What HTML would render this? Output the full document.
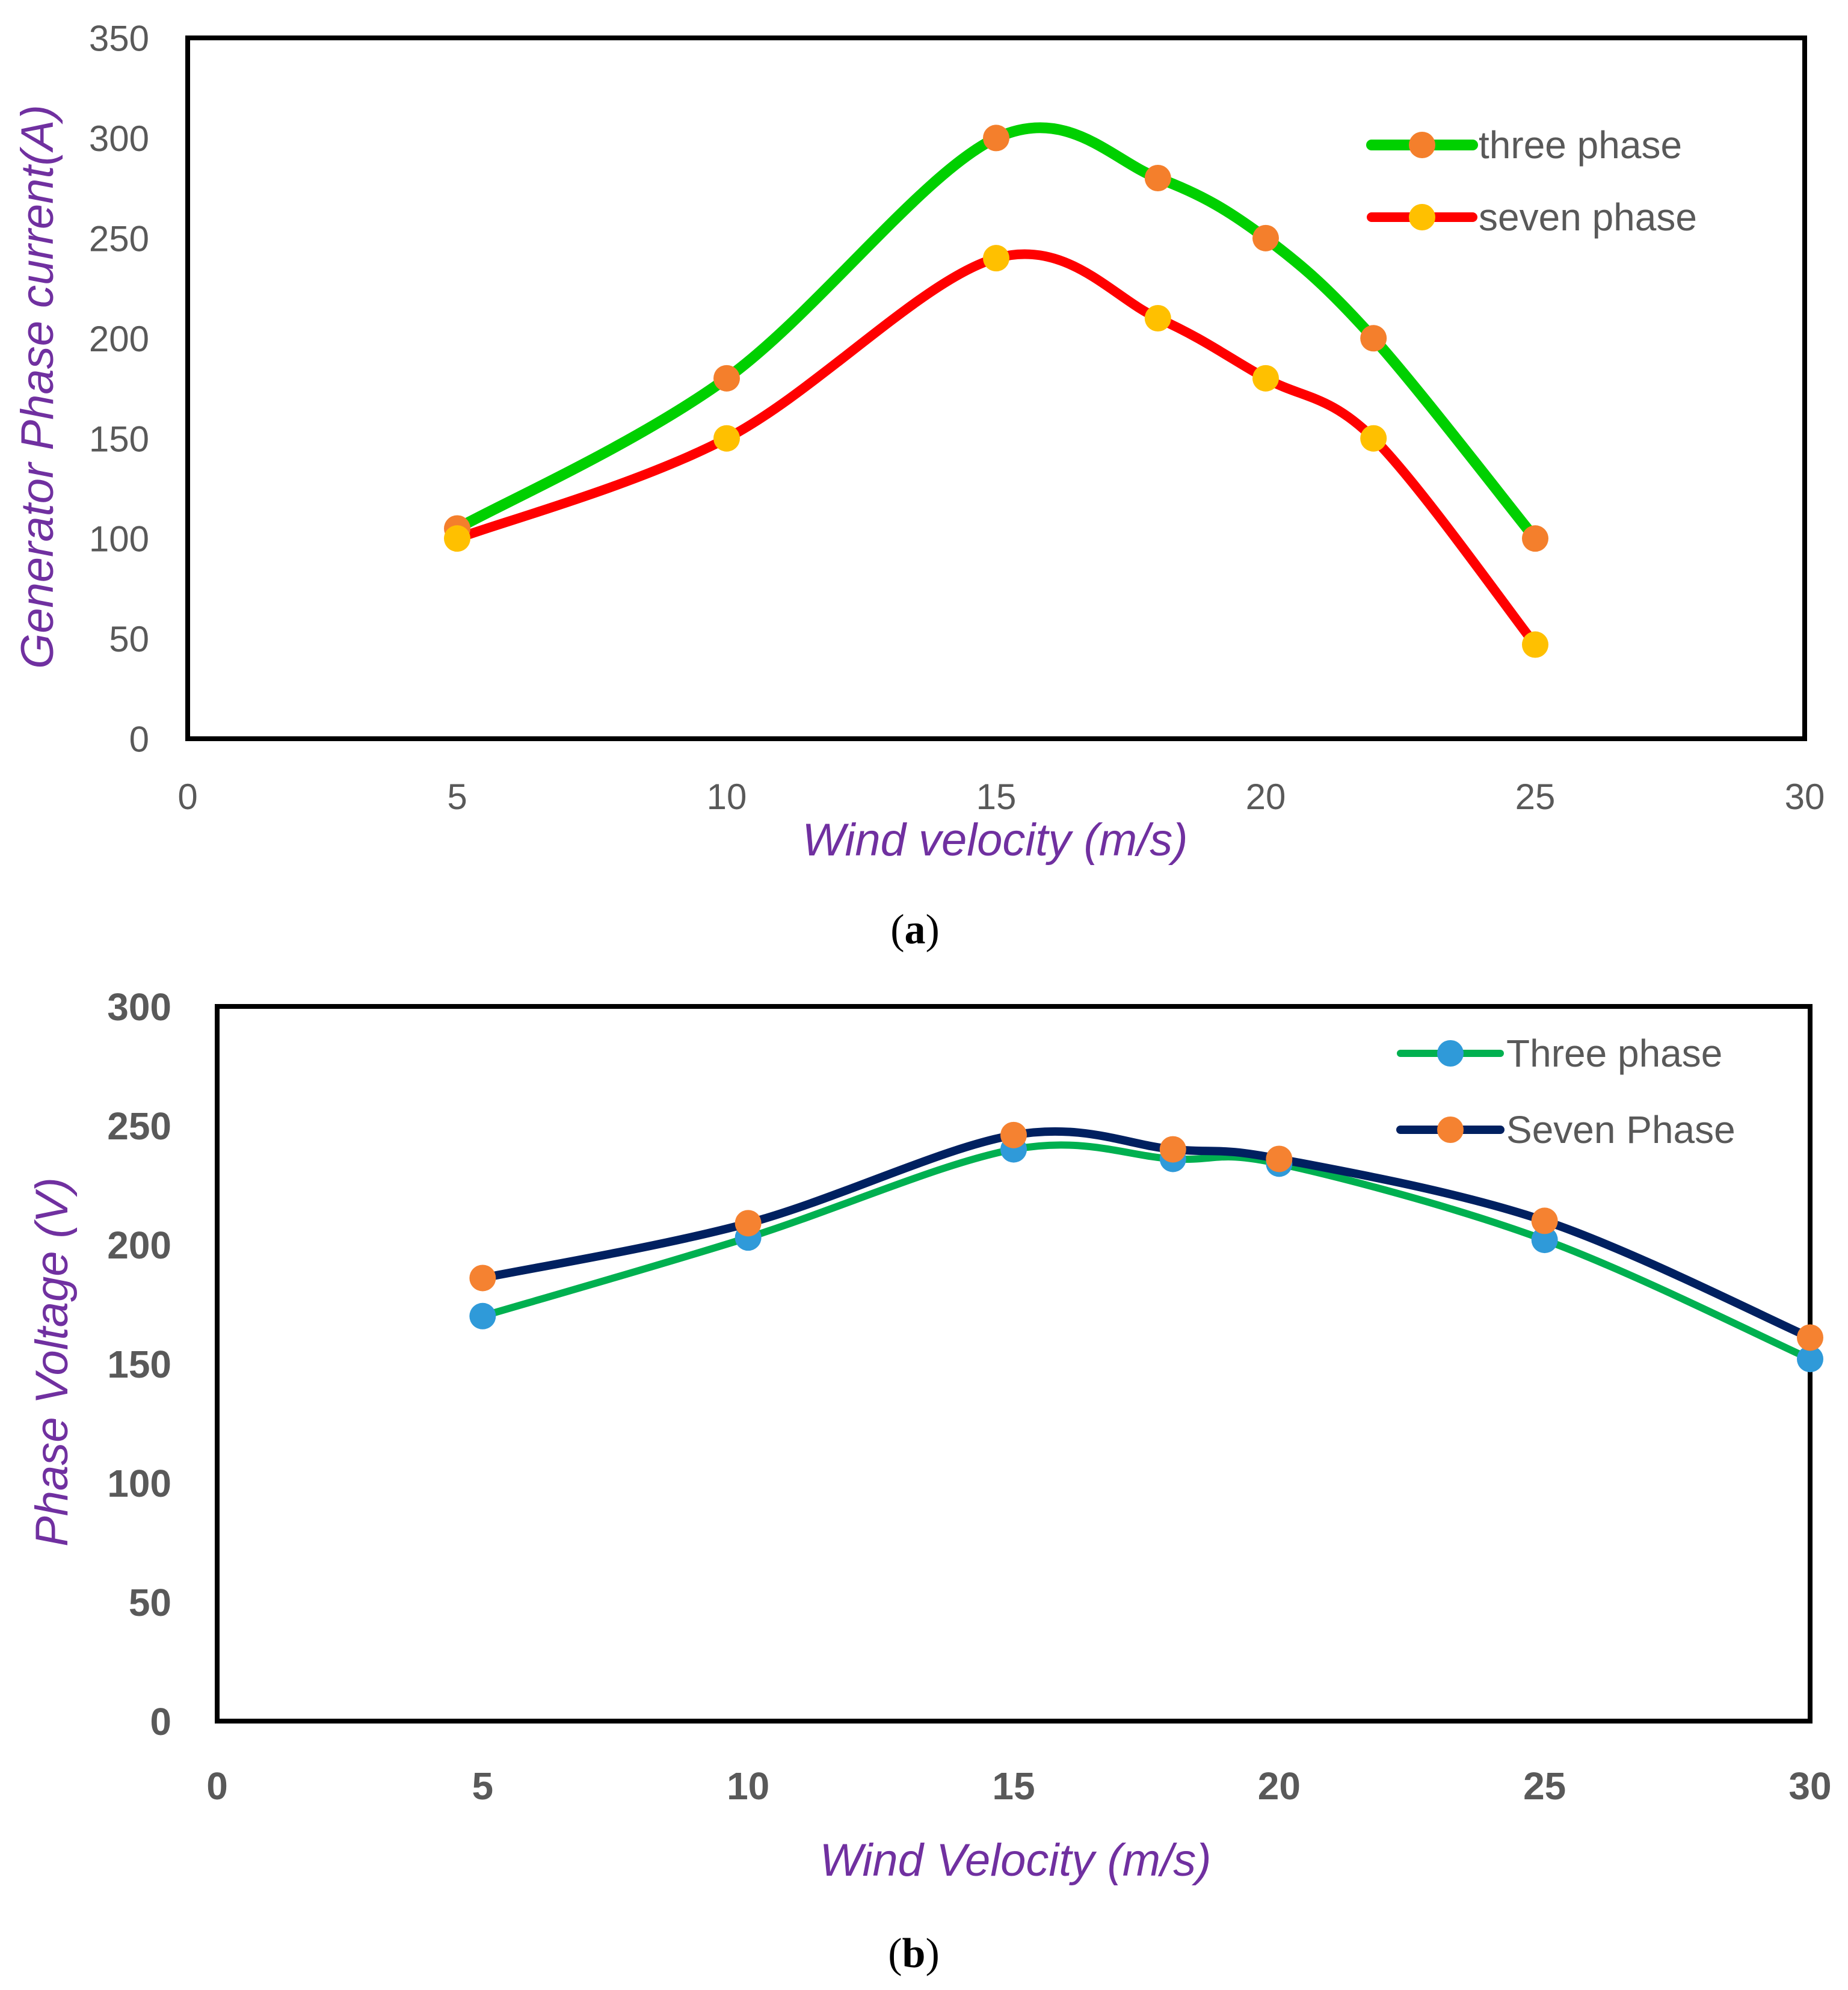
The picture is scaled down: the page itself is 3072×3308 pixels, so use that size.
<!DOCTYPE html>
<html><head><meta charset="utf-8"><style>
html,body{margin:0;padding:0;background:#fff;}
svg{display:block;}
text{font-family:"Liberation Sans",sans-serif;}
</style></head><body>
<svg id="root" width="3072" height="3308" viewBox="0 0 3072 3308" xmlns="http://www.w3.org/2000/svg">
<g id="chartA"></g>
<g id="chartB"></g>
<text x="1521" y="1568" font-size="70" text-anchor="middle" style="font-family:'Liberation Serif',serif">(<tspan font-weight="bold">a</tspan>)</text>
<text x="1519" y="3270" font-size="70" text-anchor="middle" style="font-family:'Liberation Serif',serif">(<tspan font-weight="bold">b</tspan>)</text>
</svg>
<script>
// Chart A data
const aX = [5, 10, 15, 18, 20, 22, 25];
const aThree = [105, 180, 300, 280, 250, 200, 100];
const aSeven = [100, 150, 240, 210, 180, 150, 47];
const aYTicks = [0, 50, 100, 150, 200, 250, 300, 350];
const aXTicks = [0, 5, 10, 15, 20, 25, 30];
// Chart B data
const bX = [5, 10, 15, 18, 20, 25, 30];
const bThree = [170, 203, 240, 236, 234, 202, 152];
const bSeven = [186, 209, 246, 240, 236, 210, 161];
const bYTicks = [0, 50, 100, 150, 200, 250, 300];
const bXTicks = [0, 5, 10, 15, 20, 25, 30];

const NS = "http://www.w3.org/2000/svg";
function mk(parent, tag, attrs, txt) {
  const e = document.createElementNS(NS, tag);
  for (const k in attrs) e.setAttribute(k, attrs[k]);
  if (txt !== undefined) e.textContent = txt;
  parent.appendChild(e);
  return e;
}
function smooth(pts) {
  let d = "M" + pts[0][0] + "," + pts[0][1];
  for (let i = 0; i < pts.length - 1; i++) {
    const p0 = pts[Math.max(0, i - 1)], p1 = pts[i], p2 = pts[i + 1], p3 = pts[Math.min(pts.length - 1, i + 2)];
    const c1 = [p1[0] + (p2[0] - p0[0]) / 6, p1[1] + (p2[1] - p0[1]) / 6];
    const c2 = [p2[0] - (p3[0] - p1[0]) / 6, p2[1] - (p3[1] - p1[1]) / 6];
    d += " C" + c1 + " " + c2 + " " + p2;
  }
  return d;
}
function drawChart(g, cfg) {
  const sx = v => cfg.L + (v - cfg.xmin) / (cfg.xmax - cfg.xmin) * (cfg.R - cfg.L);
  const sy = v => cfg.B - (v - cfg.ymin) / (cfg.ymax - cfg.ymin) * (cfg.B - cfg.T);
  const box = mk(g, "rect", {x: cfg.L, y: cfg.T, width: cfg.R - cfg.L, height: cfg.B - cfg.T, fill: "#fff", stroke: "#000", "stroke-width": 8});
  
  
  cfg.yTicks.forEach(v => {
    const t = mk(g, "text", {x: cfg.yLabX, y: sy(v) + cfg.fs * 0.36, "text-anchor": "end", "font-size": cfg.fs, fill: "#595959", "font-weight": cfg.bold ? "bold" : "normal"}, v);
    
    
  });
  cfg.xTicks.forEach(v => {
    const t = mk(g, "text", {x: sx(v), y: cfg.xLabY, "text-anchor": "middle", "font-size": cfg.fs, fill: "#595959", "font-weight": cfg.bold ? "bold" : "normal"}, v);
    
    
  });
  cfg.series.forEach(s => {
    const pts = cfg.xs.map((x, i) => [sx(x), sy(s.vals[i])]);
    const p = mk(g, "path", {d: smooth(pts), fill: "none", stroke: s.line, "stroke-width": s.w, "stroke-linecap": "round", "stroke-linejoin": "round"});
    
    
  });
  cfg.series.forEach(s => {
    cfg.xs.forEach((x, i) => {
      const c = mk(g, "circle", {cx: sx(x), cy: sy(s.vals[i]), r: cfg.mr, fill: s.marker});
      
      
    });
  });
  cfg.series.forEach((s, i) => {
    const y = cfg.legY[i];
    const lg = mk(g, "g", {});
    
    
    mk(lg, "line", {x1: cfg.legX1, x2: cfg.legX2, y1: y, y2: y, stroke: s.line, "stroke-width": s.w, "stroke-linecap": "round"});
    mk(lg, "circle", {cx: (cfg.legX1 + cfg.legX2) / 2, cy: y, r: cfg.mr, fill: s.marker});
    mk(lg, "text", {x: cfg.legX2 + 10, y: y + 22, "font-size": 64, fill: "#595959"}, s.label);
  });
  const xt = mk(g, "text", {x: cfg.xtX, y: cfg.xtY, "text-anchor": "middle", "font-size": 76, "font-style": "italic", fill: "#7030a0"}, cfg.xTitle);
  
  
  const yt = mk(g, "text", {x: 0, y: 0, "text-anchor": "middle", "font-size": 76, "font-style": "italic", fill: "#7030a0", transform: "translate(" + cfg.ytX + "," + cfg.ytY + ") rotate(-90)"}, cfg.yTitle);
  
  
}
drawChart(document.getElementById("chartA"), {
  L: 312, R: 3000, T: 63, B: 1228, xmin: 0, xmax: 30, ymin: 0, ymax: 350,
  yTicks: aYTicks, xTicks: aXTicks, xs: aX, fs: 60, bold: false, yLabX: 248, xLabY: 1345, mr: 22,
  series: [
    {name: "three-phase", label: "three phase", vals: aThree, line: "#00d000", marker: "#f47f2c", w: 18},
    {name: "seven-phase", label: "seven phase", vals: aSeven, line: "#ff0000", marker: "#ffc000", w: 16}
  ],
  legX1: 2280, legX2: 2448, legY: [241, 361],
  xTitle: "Wind velocity (m/s)", xtX: 1654, xtY: 1422,
  yTitle: "Generator Phase current(A)", ytX: 88, ytY: 643
});
drawChart(document.getElementById("chartB"), {
  L: 361, R: 3009, T: 1673, B: 2861, xmin: 0, xmax: 30, ymin: 0, ymax: 300,
  yTicks: bYTicks, xTicks: bXTicks, xs: bX, fs: 64, bold: true, yLabX: 285, xLabY: 2991, mr: 22,
  series: [
    {name: "three-phase", label: "Three phase", vals: bThree, line: "#00b050", marker: "#2f9ad9", w: 12},
    {name: "seven-phase", label: "Seven Phase", vals: bSeven, line: "#002060", marker: "#f58231", w: 14}
  ],
  legX1: 2328, legX2: 2494, legY: [1751, 1878],
  xTitle: "Wind Velocity (m/s)", xtX: 1688, xtY: 3118,
  yTitle: "Phase Voltage  (V)", ytX: 112, ytY: 2264
});
</script>
</body></html>
